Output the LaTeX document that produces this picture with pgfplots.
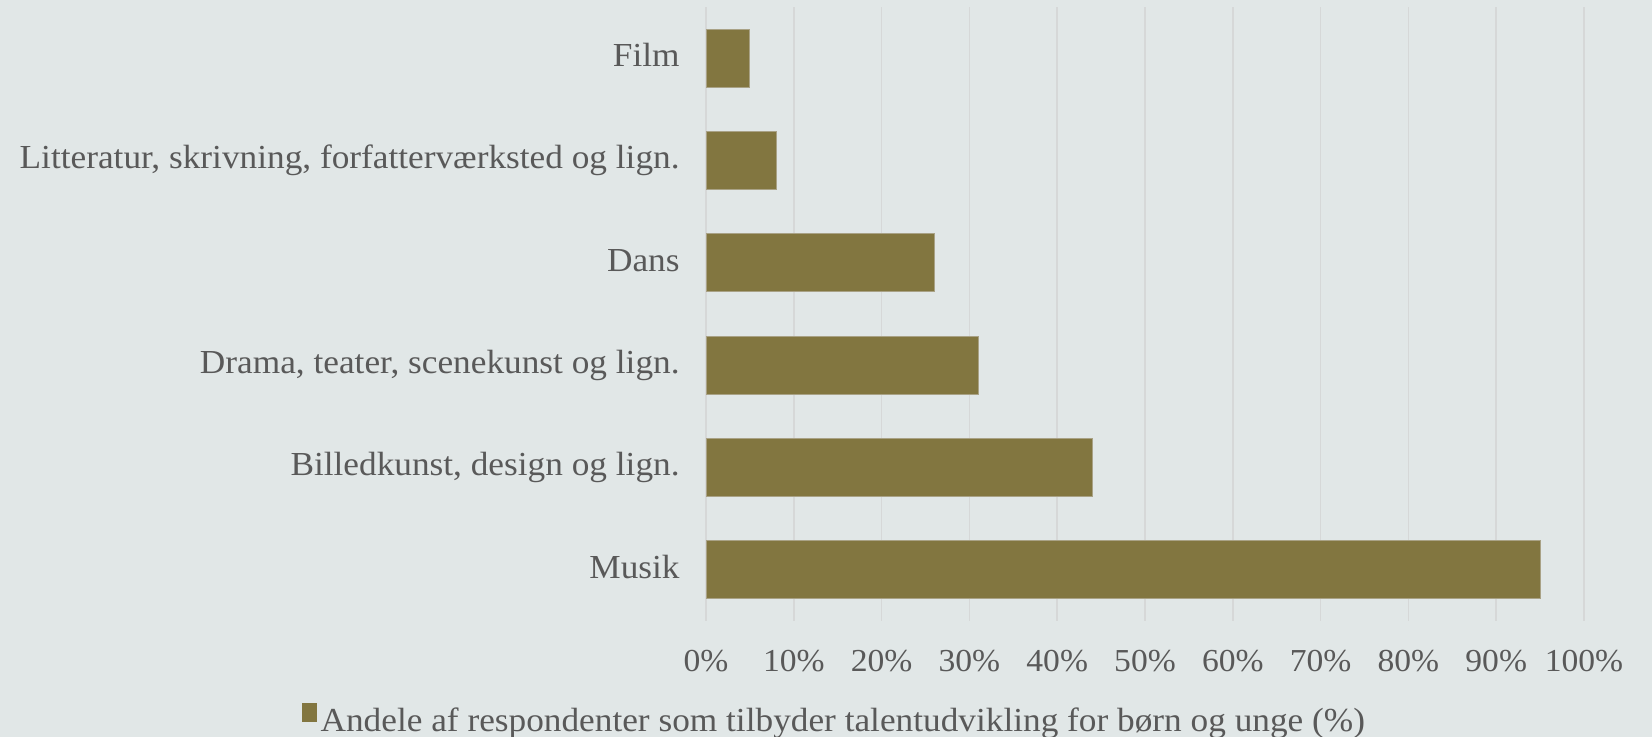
\documentclass[border=0pt]{standalone}
\usepackage{pgfplots}
\pgfplotsset{compat=1.18}
\usepackage{fontspec}
\setmainfont[FakeStretch=1.05]{Liberation Serif}
\definecolor{bg}{HTML}{E1E7E7}
\definecolor{barcol}{HTML}{827640}
\definecolor{baredge}{HTML}{A9A286}
\definecolor{gridcol}{HTML}{D6D8D8}
\definecolor{txt}{HTML}{595959}
\begin{document}
\begin{tikzpicture}
\fill[bg] (0,0) rectangle (826pt,-368.5pt);
\useasboundingbox (0,0) rectangle (826pt,-368.5pt);
\begin{axis}[
  at={(353pt,-3.5pt)}, anchor=north west,
  scale only axis, width=439pt, height=307pt,
  xbar, bar width=29pt,
  xmin=0, xmax=100, ymin=-0.5, ymax=5.5,
  axis line style={draw=none},
  major tick length=0pt,
  xtick={0,10,...,100},
  xticklabel={\pgfmathprintnumber{\tick}\%},
  ytick={0,1,2,3,4,5},
  yticklabels={Musik,{Billedkunst, design og lign.},{Drama, teater, scenekunst og lign.},Dans,{Litteratur, skrivning, forfatterværksted og lign.},Film},
  /pgf/number format/assume math mode=true,
  xmajorgrids, grid style={gridcol, line width=0.75pt},
  ticklabel style={text=txt, inner sep=0pt},
  xticklabel style={font=\fontsize{16}{19}\selectfont, anchor=base, yshift=-25.5pt},
  yticklabel style={font=\fontsize{16.8}{20}\selectfont, anchor=base east, yshift=-4.2pt, xshift=-13pt},
  legend style={at={(0.145,-0.159)}, anchor=center, draw=none, fill=none,
    font=\fontsize{16.8}{20}\selectfont, text=txt, inner sep=0pt,
    nodes={inner sep=0pt}},
  legend image code/.code={\fill[barcol] (0pt,-0.5pt) rectangle (7pt,8.5pt);},
  legend cell align=left,
]
\addplot[fill=barcol, draw=baredge, line width=0.5pt] coordinates {
  (95,0) (44,1) (31,2) (26,3) (8,4) (5,5)
};
\addlegendentry{\hspace{2pt}Andele af respondenter som tilbyder talentudvikling for børn og unge (\%)}
\end{axis}
\end{tikzpicture}
\end{document}
